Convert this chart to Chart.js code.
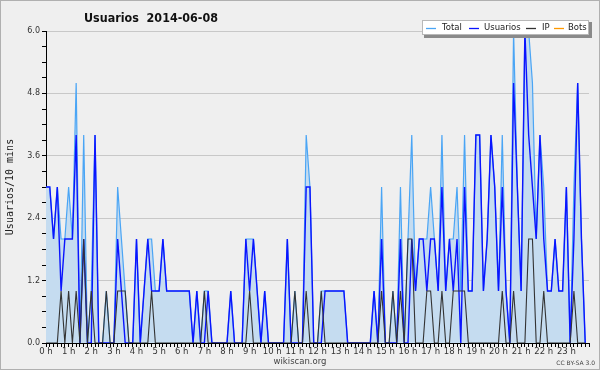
<!DOCTYPE html>
<html>
<head>
<meta charset="utf-8">
<script src="https://cdn.jsdelivr.net/npm/chart.js@4.4.1/dist/chart.umd.min.js"></script>
<style>
html,body{margin:0;padding:0;background:#efefef;}
#wrap{width:600px;height:370px;position:relative;}
canvas{display:block;}
</style>
</head>
<body>
<div id="wrap"><canvas id="c" width="600" height="370"></canvas></div>
<script>
// ---- data (10-minute slots over one day) ----
const chartTitle = 'Usuarios  2014-06-08';
const yAxisTitle = 'Usuarios/10 mins';
const seriesNames = ['Total', 'Usuarios', 'IP', 'Bots'];
const hourLabels = ['0 h','1 h','2 h','3 h','4 h','5 h','6 h','7 h','8 h','9 h','10 h','11 h',
                    '12 h','13 h','14 h','15 h','16 h','17 h','18 h','19 h','20 h','21 h','22 h','23 h'];
const yTickLabels = ['0.0','1.2','2.4','3.6','4.8','6.0'];
const slots = [
  0,1,2,3,4,5,6,7,8,9,10,11,12,13,14,15,16,17,18,19,20,21,22,23,
  24,25,26,27,28,29,30,31,32,33,34,35,36,37,38,39,40,41,42,43,44,45,46,47,
  48,49,50,51,52,53,54,55,56,57,58,59,60,61,62,63,64,65,66,67,68,69,70,71,
  72,73,74,75,76,77,78,79,80,81,82,83,84,85,86,87,88,89,90,91,92,93,94,95,
  96,97,98,99,100,101,102,103,104,105,106,107,108,109,110,111,112,113,114,115,116,117,118,119,
  120,121,122,123,124,125,126,127,128,129,130,131,132,133,134,135,136,137,138,139,140,141,142,143
];
const total = [
  3,3,2,3,2,2,3,2,5,0,4,0,  1,4,0,0,1,0,0,3,2,1,0,0,
  2,0,1,2,2,1,1,2,1,1,1,1,  1,1,1,0,1,0,1,1,0,0,0,0,
  0,1,0,0,0,2,2,2,1,0,1,0,  0,0,0,0,2,0,1,0,0,4,3,0,
  0,1,1,1,1,1,1,1,0,0,0,0,  0,0,0,1,0,3,0,0,1,0,3,0,
  2,4,1,2,2,2,3,2,1,4,1,2,  2,3,1,4,1,1,4,4,1,2,4,3,
  1,4,1,0,6,3,1,6,6,5,2,4,  3,1,1,2,1,1,3,0,3,5,2,0
];
const usuarios = [
  3,3,2,3,1,2,2,2,4,0,2,0,  0,4,0,0,0,0,0,2,1,0,0,0,
  2,0,1,2,1,1,1,2,1,1,1,1,  1,1,1,0,1,0,0,1,0,0,0,0,
  0,1,0,0,0,2,1,2,1,0,1,0,  0,0,0,0,2,0,0,0,0,3,3,0,
  0,0,1,1,1,1,1,1,0,0,0,0,  0,0,0,1,0,2,0,0,0,0,2,0,
  0,2,1,2,2,1,2,2,1,3,1,2,  1,2,0,3,1,1,4,4,1,2,4,3,
  1,3,1,0,5,3,1,6,4,3,2,4,  2,1,1,2,1,1,3,0,2,5,2,0
];
const ip = [
  0,0,0,0,1,0,1,0,1,0,2,0,  1,0,0,0,1,0,0,1,1,1,0,0,
  0,0,0,0,1,0,0,0,0,0,0,0,  0,0,0,0,0,0,1,0,0,0,0,0,
  0,0,0,0,0,0,1,0,0,0,0,0,  0,0,0,0,0,0,1,0,0,1,0,0,
  0,1,0,0,0,0,0,0,0,0,0,0,  0,0,0,0,0,1,0,0,1,0,1,0,
  2,2,0,0,0,1,1,0,0,1,0,0,  1,1,1,1,0,0,0,0,0,0,0,0,
  0,1,0,0,1,0,0,0,2,2,0,0,  1,0,0,0,0,0,0,0,1,0,0,0
];
const bots = [
  0,0,0,0,0,0,0,0,0,0,0,0,  0,0,0,0,0,0,0,0,0,0,0,0,
  0,0,0,0,0,0,0,0,0,0,0,0,  0,0,0,0,0,0,0,0,0,0,0,0,
  0,0,0,0,0,0,0,0,0,0,0,0,  0,0,0,0,0,0,0,0,0,0,0,0,
  0,0,0,0,0,0,0,0,0,0,0,0,  0,0,0,0,0,0,0,0,0,0,0,0,
  0,0,0,0,0,0,0,0,0,0,0,0,  0,0,0,0,0,0,0,0,0,0,0,0,
  0,0,0,0,0,0,0,0,0,0,0,0,  0,0,0,0,0,0,0,0,0,0,0,0
];

// ---- styles ----
const colors = {
  Total: '#4aa5f5',
  TotalFill: '#c5dcf0',
  Usuarios: '#0a14ff',
  IP: '#333333',
  Bots: '#ff9900'
};
const FONT = '"DejaVu Sans", "Liberation Sans", sans-serif';

function isMajor(v) {
  const r = v / 1.2;
  return Math.abs(r - Math.round(r)) < 1e-6;
}

const decor = {
  id: 'decor',
  beforeDraw(chart) {
    const ctx = chart.ctx;
    ctx.save();
    ctx.fillStyle = '#efefef';
    ctx.fillRect(0, 0, chart.width, chart.height);
    ctx.restore();
  },
  afterDraw(chart) {
    const ctx = chart.ctx;
    const ca = chart.chartArea;
    ctx.save();
    // outer border
    ctx.strokeStyle = '#b0b0b0';
    ctx.lineWidth = 1;
    ctx.strokeRect(0.5, 0.5, chart.width - 1, chart.height - 1);

    // title (compressed horizontally to the reference width)
    ctx.fillStyle = '#111';
    ctx.font = 'bold 13px ' + FONT;
    ctx.textAlign = 'left';
    ctx.textBaseline = 'alphabetic';
    ctx.fillText(chartTitle, 84, 22, 134);

    // y axis title
    ctx.save();
    ctx.translate(10, (ca.top + ca.bottom) / 2);
    ctx.rotate(-Math.PI / 2);
    ctx.textAlign = 'center';
    ctx.textBaseline = 'middle';
    ctx.font = '10px "DejaVu Sans Mono", monospace';
    ctx.fillStyle = '#222';
    ctx.fillText(yAxisTitle, 0, 0);
    ctx.restore();

    // legend box with shadow
    const lx = 422, ly = 20, lw = 167, lh = 15;
    ctx.fillStyle = '#8a8a8a';
    ctx.fillRect(lx + 2, ly + 2, lw + 1, lh + 1);
    ctx.fillStyle = '#ffffff';
    ctx.fillRect(lx, ly, lw, lh);
    ctx.strokeStyle = '#b8b8b8';
    ctx.strokeRect(lx + 0.5, ly + 0.5, lw - 1, lh - 1);
    ctx.font = '8.5px ' + FONT;
    ctx.textBaseline = 'middle';
    ctx.textAlign = 'left';
    const lineX = [426, 469, 526, 554];
    const textX = [442, 484, 542, 568];
    const ymid = ly + lh / 2 + 0.5;
    seriesNames.forEach((name, k) => {
      ctx.strokeStyle = colors[name];
      ctx.lineWidth = 1.3;
      ctx.beginPath();
      ctx.moveTo(lineX[k], Math.round(ymid) + 0.5);
      ctx.lineTo(lineX[k] + 10, Math.round(ymid) + 0.5);
      ctx.stroke();
      ctx.fillStyle = '#222';
      ctx.fillText(name, textX[k], ymid);
    });

    // credits
    ctx.fillStyle = '#444';
    ctx.font = '8.5px ' + FONT;
    ctx.textAlign = 'center';
    ctx.textBaseline = 'middle';
    ctx.fillText('wikiscan.org', 300, 362);
    ctx.font = '6px ' + FONT;
    ctx.textAlign = 'right';
    ctx.fillText('CC BY-SA 3.0', 595, 363);
    ctx.restore();
  }
};

new Chart(document.getElementById('c'), {
  type: 'line',
  data: {
    labels: slots,
    datasets: [
      { label: seriesNames[0], data: total, borderColor: colors.Total, backgroundColor: colors.TotalFill,
        fill: 'origin', borderWidth: 1.2, pointRadius: 0, tension: 0, order: 2 },
      { label: seriesNames[1], data: usuarios, borderColor: colors.Usuarios, fill: false,
        borderWidth: 1.4, pointRadius: 0, tension: 0, order: 1 },
      { label: seriesNames[2], data: ip, borderColor: colors.IP, fill: false,
        borderWidth: 1.1, pointRadius: 0, tension: 0, order: 0 },
      { label: seriesNames[3], data: bots, borderColor: colors.Bots, fill: false,
        borderWidth: 1, pointRadius: 0, tension: 0, order: 3 }
    ]
  },
  options: {
    responsive: false,
    animation: false,
    devicePixelRatio: 1,
    layout: { padding: { top: 31, right: 11, left: 0, bottom: 0 } },
    plugins: { legend: { display: false }, title: { display: false }, tooltip: { enabled: false } },
    scales: {
      x: {
        type: 'linear',
        min: 0, max: 144,
        afterFit(scale) { scale.height = 27; },
        border: { display: true, color: '#000', width: 1 },
        grid: { drawOnChartArea: false, drawTicks: true, tickLength: 4, tickColor: '#000', lineWidth: 1 },
        ticks: {
          stepSize: 1, autoSkip: false, maxRotation: 0, minRotation: 0, padding: 0,
          color: '#333', font: { family: FONT, size: 8.5 },
          callback: (v) => (v % 6 === 0 && v / 6 < hourLabels.length) ? hourLabels[v / 6] : ''
        }
      },
      y: {
        min: 0, max: 6,
        afterFit(scale) { scale.width = 46; },
        border: { display: true, color: '#000', width: 1 },
        grid: {
          drawOnChartArea: true, drawTicks: true, tickLength: 4, tickColor: '#000',
          color: (c) => (c.tick && c.tick.value > 0 && isMajor(c.tick.value)) ? '#c8c8c8' : 'rgba(0,0,0,0)',
          lineWidth: 1
        },
        ticks: {
          stepSize: 0.3, autoSkip: false, padding: 2,
          color: '#333', font: { family: FONT, size: 8 },
          callback: (v) => isMajor(v) ? yTickLabels[Math.round(v / 1.2)] : ''
        }
      }
    }
  },
  plugins: [decor]
});
</script>
</body>
</html>
